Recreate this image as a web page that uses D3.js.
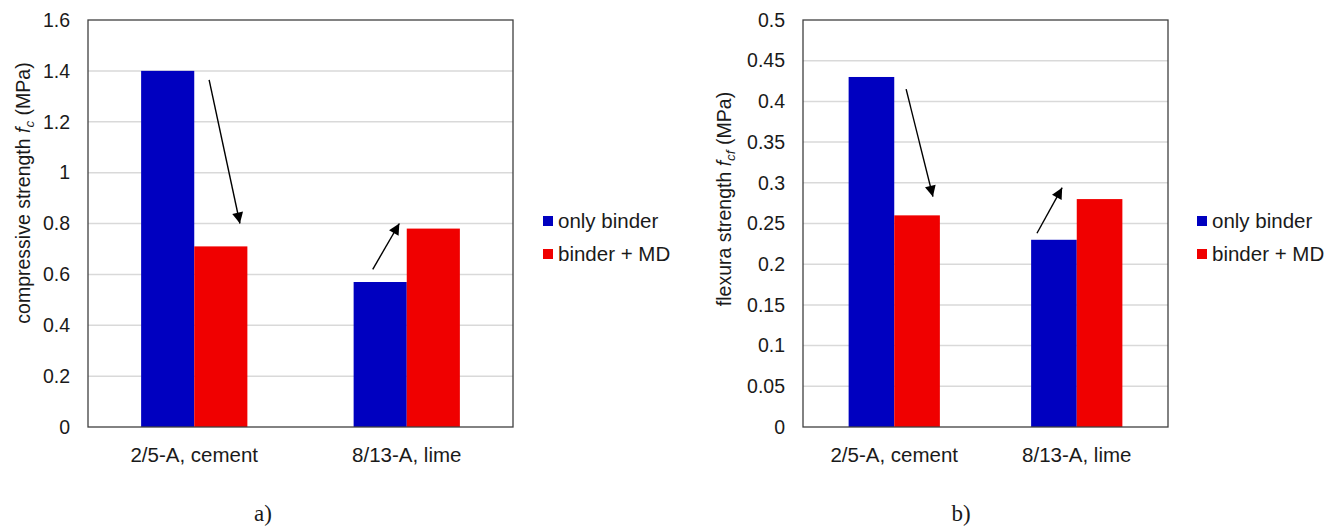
<!DOCTYPE html>
<html>
<head>
<meta charset="utf-8">
<script src="https://cdn.jsdelivr.net/npm/d3@7"></script>
<style>
  body { margin: 0; background: #fff; }
  svg { display: block; font-family: "Liberation Sans", Arial, sans-serif; }
</style>
</head>
<body>
<script>
// data
const categories = ["2/5-A, cement", "8/13-A, lime"];
const seriesNames = ["only binder", "binder + MD"];
const seriesColors = ["#0000c0", "#f00000"];

const compressiveOnlyBinder = [1.4, 0.57];
const compressiveBinderMD = [0.71, 0.78];
const compressiveTicks = [0, 0.2, 0.4, 0.6, 0.8, 1, 1.2, 1.4, 1.6];

const flexuralOnlyBinder = [0.43, 0.23];
const flexuralBinderMD = [0.26, 0.28];
const flexuralTicks = [0, 0.05, 0.1, 0.15, 0.2, 0.25, 0.3, 0.35, 0.4, 0.45, 0.5];

// arrows: position inside the category band (0..1) and value at start / tip
const compressiveArrows = [
  { cat: "2/5-A, cement", f0: 0.57, v0: 1.365, f1: 0.715, v1: 0.80 },
  { cat: "8/13-A, lime", f0: 0.34, v0: 0.62, f1: 0.465, v1: 0.80 }
];
const flexuralArrows = [
  { cat: "2/5-A, cement", f0: 0.565, v0: 0.415, f1: 0.712, v1: 0.283 },
  { cat: "8/13-A, lime", f0: 0.282, v0: 0.238, f1: 0.42, v1: 0.294 }
];

const width = 1336, height = 527;

const svg = d3.select("body").append("svg")
  .attr("width", width)
  .attr("height", height);

svg.append("rect").attr("width", width).attr("height", height).attr("fill", "#fff");

const defs = svg.append("defs");
defs.append("marker")
  .attr("id", "head")
  .attr("viewBox", "0 0 10 10")
  .attr("refX", 10).attr("refY", 5)
  .attr("markerUnits", "userSpaceOnUse")
  .attr("markerWidth", 13).attr("markerHeight", 11)
  .attr("orient", "auto")
  .append("path")
  .attr("d", "M0,0 L10,5 L0,10 Z")
  .attr("fill", "#000");

function drawPanel(cfg) {
  const { left, right, top, bottom } = cfg;
  const g = svg.append("g");

  const x = d3.scaleBand().domain(categories).range([left, right])
    .paddingInner(0.5).paddingOuter(0.25);
  const xs = d3.scaleBand().domain(seriesNames).range([0, x.bandwidth()]);
  const y = d3.scaleLinear().domain([0, cfg.max]).range([bottom, top]);

  // grid
  g.append("g")
    .selectAll("line")
    .data(cfg.ticks.filter(t => t > 0 && t < cfg.max))
    .join("line")
    .attr("x1", left).attr("x2", right)
    .attr("y1", d => y(d)).attr("y2", d => y(d))
    .attr("stroke", "#d9d9d9")
    .attr("stroke-width", 1.5);

  // bars
  const rows = categories.map((c, i) => ({ cat: c, vals: [cfg.a[i], cfg.b[i]] }));
  g.append("g")
    .selectAll("g")
    .data(rows)
    .join("g")
    .attr("transform", d => `translate(${x(d.cat)},0)`)
    .selectAll("rect")
    .data(d => d.vals.map((v, j) => ({ name: seriesNames[j], v, j })))
    .join("rect")
    .attr("x", d => xs(d.name))
    .attr("width", xs.bandwidth())
    .attr("y", d => y(d.v))
    .attr("height", d => y(0) - y(d.v))
    .attr("fill", d => seriesColors[d.j]);

  // frame
  g.append("rect")
    .attr("x", left).attr("y", top)
    .attr("width", right - left).attr("height", bottom - top)
    .attr("fill", "none")
    .attr("stroke", "#404040")
    .attr("stroke-width", 1.3);

  // y axis
  const yAxis = d3.axisLeft(y).tickValues(cfg.ticks).tickSize(0).tickPadding(18)
    .tickFormat(d3.format("~g"));
  g.append("g")
    .attr("transform", `translate(${left},0)`)
    .call(yAxis)
    .call(s => s.select(".domain").remove())
    .selectAll("text")
    .attr("font-size", 19.5)
    .attr("font-family", "Liberation Sans, Arial, sans-serif")
    .attr("fill", "#1a1a1a");

  // x axis
  const xAxis = d3.axisBottom(x).tickSize(0).tickPadding(20);
  g.append("g")
    .attr("transform", `translate(0,${bottom})`)
    .call(xAxis)
    .call(s => s.select(".domain").remove())
    .selectAll("text")
    .attr("font-size", 20.5)
    .attr("font-family", "Liberation Sans, Arial, sans-serif")
    .attr("fill", "#1a1a1a");

  // y title
  const title = g.append("text")
    .attr("transform", `translate(${cfg.titleX},${cfg.titleY}) rotate(-90)`)
    .attr("text-anchor", "middle")
    .attr("font-size", 19.5)
    .attr("fill", "#1a1a1a");
  title.append("tspan").text(cfg.titleA);
  title.append("tspan").attr("font-style", "italic").text("f");
  title.append("tspan").attr("font-style", "italic").attr("font-size", 13.5).attr("dy", 4).text(cfg.sub);
  title.append("tspan").attr("dy", -4).text(" (MPa)");

  // arrows
  g.append("g")
    .selectAll("line")
    .data(cfg.arrows)
    .join("line")
    .attr("x1", d => x(d.cat) - x.step() * 0.25 + d.f0 * x.step())
    .attr("y1", d => y(d.v0))
    .attr("x2", d => x(d.cat) - x.step() * 0.25 + d.f1 * x.step())
    .attr("y2", d => y(d.v1))
    .attr("stroke", "#000")
    .attr("stroke-width", 1.4)
    .attr("marker-end", "url(#head)");

  // legend
  const leg = g.append("g")
    .selectAll("g")
    .data(seriesNames)
    .join("g")
    .attr("transform", (d, i) => `translate(${cfg.legX},${cfg.legY + i * 33})`);
  leg.append("rect")
    .attr("x", 0).attr("y", -5)
    .attr("width", 10).attr("height", 10)
    .attr("fill", (d, i) => seriesColors[i]);
  leg.append("text")
    .attr("x", 15).attr("dy", "0.35em")
    .attr("font-size", 20.5)
    .attr("fill", "#1a1a1a")
    .text(d => d);

  // panel label
  g.append("text")
    .attr("x", cfg.labelX).attr("y", 521)
    .attr("text-anchor", "middle")
    .attr("font-family", "Liberation Serif, Times New Roman, serif")
    .attr("font-size", 23)
    .attr("fill", "#1a1a1a")
    .text(cfg.label);
}

drawPanel({
  left: 88, right: 513, top: 20, bottom: 427, max: 1.6,
  ticks: compressiveTicks, a: compressiveOnlyBinder, b: compressiveBinderMD,
  arrows: compressiveArrows,
  titleX: 30, titleY: 193, titleA: "compressive strength ", sub: "c",
  legX: 543, legY: 221, label: "a)", labelX: 263
});

drawPanel({
  left: 803, right: 1168, top: 20, bottom: 427, max: 0.5,
  ticks: flexuralTicks, a: flexuralOnlyBinder, b: flexuralBinderMD,
  arrows: flexuralArrows,
  titleX: 731, titleY: 199, titleA: "flexura strength ", sub: "cf",
  legX: 1197, legY: 221, label: "b)", labelX: 961
});
</script>
</body>
</html>
